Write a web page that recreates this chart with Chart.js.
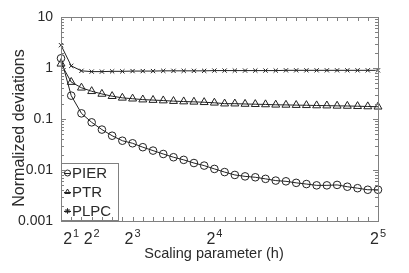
<!DOCTYPE html>
<html>
<head>
<meta charset="utf-8">
<script src="https://cdn.jsdelivr.net/npm/chart.js@4.4.1/dist/chart.umd.min.js"></script>
<style>
  html, body { margin: 0; padding: 0; background: #fff; }
  canvas { display: block; }
</style>
</head>
<body>
<canvas id="chart" width="409" height="273"></canvas>
<script>
// ---- data ----
const hValues = [1, 2, 3, 4, 5, 6, 7, 8, 9, 10, 11, 12, 13, 14, 15, 16,
  17, 18, 19, 20, 21, 22, 23, 24, 25, 26, 27, 28, 29, 30, 31, 32];

const pierValues = [1.55, 0.287, 0.129, 0.086, 0.062, 0.047, 0.0375, 0.0334, 0.028, 0.024,
  0.0206, 0.0178, 0.0158, 0.0137, 0.0122, 0.0105, 0.0091, 0.008, 0.0075, 0.0072,
  0.0067, 0.0062, 0.006, 0.0056, 0.0053, 0.005, 0.005, 0.0051, 0.0047, 0.0044, 0.0041, 0.0041];

const ptrValues = [1.21, 0.53, 0.41, 0.35, 0.31, 0.28, 0.26, 0.25, 0.24, 0.235,
  0.23, 0.224, 0.22, 0.217, 0.213, 0.208, 0.2, 0.2, 0.197, 0.195,
  0.193, 0.19, 0.189, 0.187, 0.186, 0.184, 0.183, 0.181, 0.18, 0.178, 0.176, 0.174];

const plpcValues = [2.8, 1.1, 0.88, 0.85, 0.85, 0.86, 0.86, 0.87, 0.87, 0.87,
  0.88, 0.88, 0.88, 0.88, 0.88, 0.89, 0.89, 0.89, 0.89, 0.89,
  0.89, 0.89, 0.9, 0.9, 0.9, 0.9, 0.9, 0.9, 0.9, 0.9, 0.9, 0.9];

const seriesNames = ['PIER', 'PTR', 'PLPC'];
const seriesStyles = ['circle', 'triangle', 'crossRot'];
const legendStyles = ['circle', 'triangle', 'star'];

const xTickValues = [2, 4, 8, 16, 32];
const xTickBase = '2';
const xTickExponents = ['1', '2', '3', '4', '5'];

const yTickValues = [0.001, 0.01, 0.1, 1, 10];
const yTickLabels = ['0.001', '0.01', '0.1', '1', '10'];

const xTitle = 'Scaling parameter (h)';
const yTitle = 'Normalized deviations';

// ---- styling ----
const FONT = '"Liberation Sans", Arial, Helvetica, sans-serif';
const TEXT = '#2a2a2a';
const FRAME = '#808080';
const LINE = '#222';
const NONE = 'rgba(0,0,0,0)';

function toPoints(values) {
  return hValues.map((h, i) => ({ x: h, y: values[i] }));
}

function pointSize(style) {
  if (style === 'triangle') return 4.6;
  if (style === 'crossRot') return 3;
  return 3.8;
}

function makeDataset(label, values, style) {
  return {
    label,
    data: toPoints(values),
    borderColor: LINE,
    borderWidth: 1,
    backgroundColor: NONE,
    pointStyle: style,
    pointRadius: pointSize(style),
    pointBorderColor: LINE,
    pointBorderWidth: 1,
    pointBackgroundColor: NONE,
    tension: 0,
    clip: false,
  };
}

// frame, inward tick marks, x labels with exponents, titles, legend
const decorPlugin = {
  id: 'decor',
  afterDatasetsDraw(chart) {
    const { ctx, chartArea: a, scales } = chart;
    const xs = scales.x, ys = scales.y;
    ctx.save();

    // legend box (lower left, covers lines)
    const lx = 61.5, ly = 163.5, lw = 57, lh = 57;
    ctx.fillStyle = '#fff';
    ctx.fillRect(lx, ly, lw, lh);
    ctx.strokeStyle = FRAME;
    ctx.lineWidth = 1;
    ctx.strokeRect(lx, ly, lw, lh);
    const rowY = [173, 192, 211];
    seriesNames.forEach((name, i) => {
      const cx = 67.5, cy = rowY[i];
      ctx.strokeStyle = LINE;
      ctx.fillStyle = NONE;
      ctx.beginPath();
      ctx.moveTo(64, cy + 0.5);
      ctx.lineTo(71, cy + 0.5);
      ctx.stroke();
      Chart.helpers.drawPoint(ctx, {
        pointStyle: legendStyles[i], rotation: 0, borderWidth: 1,
        radius: legendStyles[i] === 'star' ? 2.8 : 3,
      }, cx, cy);
      ctx.fillStyle = TEXT;
      ctx.font = '15px ' + FONT;
      ctx.textAlign = 'left';
      ctx.textBaseline = 'middle';
      ctx.fillText(name, 72, cy + 1);
    });

    // frame
    ctx.strokeStyle = FRAME;
    ctx.lineWidth = 1;
    ctx.strokeRect(Math.round(a.left) + 0.5, Math.round(a.top) + 0.5,
      Math.round(a.right - a.left), Math.round(a.bottom - a.top));

    // x tick marks at every h, top and bottom
    ctx.beginPath();
    hValues.forEach((h) => {
      const px = Math.round(xs.getPixelForValue(h)) + 0.5;
      ctx.moveTo(px, a.bottom); ctx.lineTo(px, a.bottom - 4);
      ctx.moveTo(px, a.top); ctx.lineTo(px, a.top + 4);
    });
    // y tick marks, log minor ticks, left and right
    for (let d = 0; d < yTickValues.length; d++) {
      const base = yTickValues[d];
      for (let k = 1; k <= 9; k++) {
        const v = base * k;
        if (v > 10.0001) break;
        const py = Math.round(ys.getPixelForValue(v)) + 0.5;
        const len = k === 1 ? 5 : 3;
        ctx.moveTo(a.left, py); ctx.lineTo(a.left + len, py);
        ctx.moveTo(a.right, py); ctx.lineTo(a.right - len, py);
      }
    }
    ctx.stroke();

    // x tick labels: 2^n
    ctx.fillStyle = TEXT;
    ctx.textBaseline = 'alphabetic';
    ctx.textAlign = 'left';
    xTickValues.forEach((v, i) => {
      const px = xs.getPixelForValue(v);
      ctx.font = '16px ' + FONT;
      const bw = ctx.measureText(xTickBase).width;
      ctx.font = '11px ' + FONT;
      const ew = ctx.measureText(xTickExponents[i]).width;
      const start = px - (bw + ew + 1) / 2;
      ctx.font = '16px ' + FONT;
      ctx.fillText(xTickBase, start, 244);
      ctx.font = '11px ' + FONT;
      ctx.fillText(xTickExponents[i], start + bw + 1, 237);
    });

    // axis titles
    ctx.font = '14.5px ' + FONT;
    ctx.textAlign = 'center';
    ctx.fillText(xTitle, 214, 258);
    ctx.save();
    ctx.translate(24, 128);
    ctx.rotate(-Math.PI / 2);
    ctx.font = '16px ' + FONT;
    ctx.fillText(yTitle, 0, 0);
    ctx.restore();

    ctx.restore();
  },
};

new Chart(document.getElementById('chart'), {
  type: 'line',
  data: {
    datasets: [
      makeDataset(seriesNames[0], pierValues, seriesStyles[0]),
      makeDataset(seriesNames[1], ptrValues, seriesStyles[1]),
      makeDataset(seriesNames[2], plpcValues, seriesStyles[2]),
    ],
  },
  options: {
    responsive: false,
    animation: false,
    devicePixelRatio: 1,
    layout: { padding: { top: 17, right: 31, left: 0, bottom: 0 } },
    plugins: { legend: { display: false }, tooltip: { enabled: false } },
    scales: {
      x: {
        type: 'linear',
        min: 1,
        max: 32,
        grid: { display: false, drawTicks: false },
        border: { display: false },
        ticks: { display: false },
        afterFit(s) { s.height = 52; },
      },
      y: {
        type: 'logarithmic',
        min: 0.001,
        max: 10,
        grid: { display: false, drawTicks: false },
        border: { display: false },
        afterBuildTicks(s) { s.ticks = yTickValues.map((v) => ({ value: v })); },
        ticks: {
          callback: (v, i) => yTickLabels[i],
          font: { family: FONT, size: 14 },
          color: TEXT,
          padding: 8,
        },
        afterFit(s) { s.width = 61; },
      },
    },
  },
  plugins: [decorPlugin],
});
</script>
</body>
</html>
